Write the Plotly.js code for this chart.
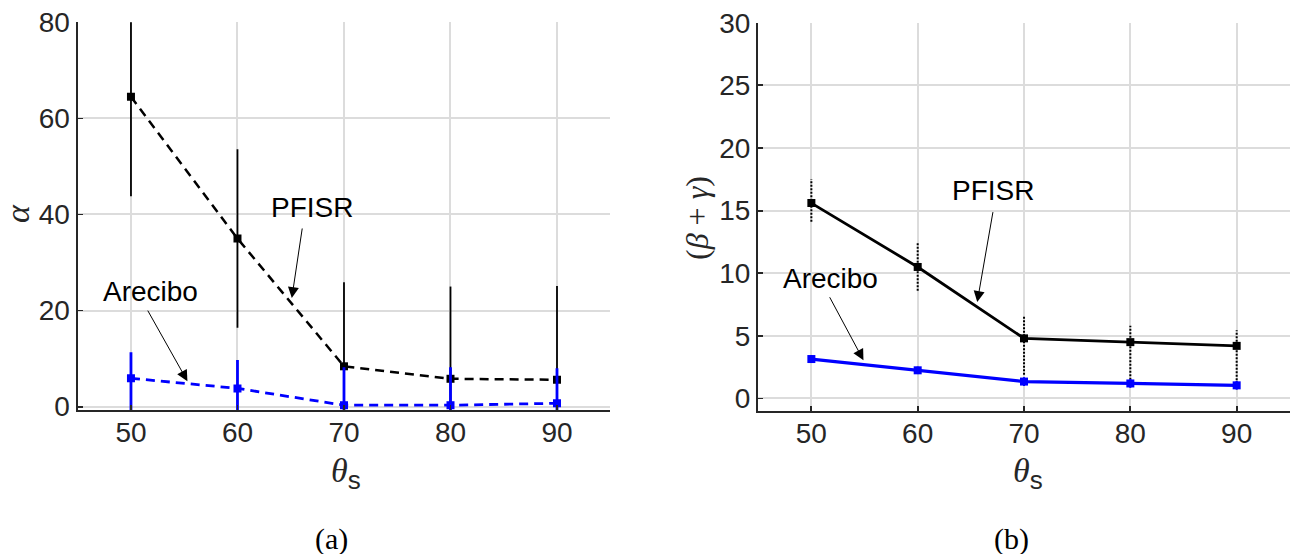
<!DOCTYPE html>
<html>
<head>
<meta charset="utf-8">
<script src="https://cdn.plot.ly/plotly-3.0.1.min.js"></script>
<style>html,body{margin:0;padding:0;background:#fff;}#chart{width:1291px;height:554px;}</style>
</head>
<body>
<div id="chart"></div>
<script>
// ---- data ----
const theta = [50, 60, 70, 80, 90];
const xTickVals = [50, 60, 70, 80, 90];
const yTickValsA = [0, 20, 40, 60, 80];
const yTickValsB = [0, 5, 10, 15, 20, 25, 30];

// panel (a): alpha
const alphaPFISR = [64.5, 35.0, 8.4, 5.8, 5.6];
const alphaPFISRErr = [20.7, 18.6, 17.5, 19.2, 19.5];
const alphaArecibo = [5.9, 3.8, 0.3, 0.3, 0.7];
const alphaAreciboErrUp = [5.4, 5.9, 7.9, 7.9, 7.3];
const alphaAreciboErrDown = [6.6, 4.5, 1.0, 1.0, 1.4];

// panel (b): beta + gamma
const bgPFISR = [15.6, 10.5, 4.8, 4.5, 4.2];
const bgPFISRErrUp = [1.9, 1.9, 1.8, 1.3, 1.25];
const bgPFISRErrDown = [1.5, 1.9, 2.9, 3.0, 3.3];
const bgArecibo = [3.15, 2.25, 1.35, 1.2, 1.05];
const bgAreciboErr = [0.3, 0.3, 0.35, 0.35, 0.35];

// ---- build dotted error segments for panel (b) PFISR ----
const segX = [], segY = [];
theta.forEach((t, i) => {
  segX.push(t, t, null);
  segY.push(bgPFISR[i] - bgPFISRErrDown[i], bgPFISR[i] + bgPFISRErrUp[i], null);
});

const BLUE = '#0000ff';
const traces = [
  // panel a
  {x: theta, y: alphaPFISR, xaxis: 'x', yaxis: 'y', mode: 'lines+markers', name: 'PFISR',
   line: {color: '#000', width: 2.5, dash: '9px,6px'},
   marker: {symbol: 'square', size: 8, color: '#000'},
   error_y: {type: 'data', array: alphaPFISRErr, color: '#000', thickness: 1.8, width: 0}},
  {x: theta, y: alphaArecibo, xaxis: 'x', yaxis: 'y', mode: 'lines+markers', name: 'Arecibo',
   line: {color: BLUE, width: 2.8, dash: '9px,6px'},
   marker: {symbol: 'square', size: 8, color: BLUE},
   error_y: {type: 'data', symmetric: false, array: alphaAreciboErrUp, arrayminus: alphaAreciboErrDown, color: BLUE, thickness: 2.8, width: 0}},
  // panel b
  {x: segX, y: segY, xaxis: 'x2', yaxis: 'y2', mode: 'lines', name: 'PFISR error',
   line: {color: '#000', width: 2, dash: '2px,1.5px'}, connectgaps: false, hoverinfo: 'skip'},
  {x: theta, y: bgPFISR, xaxis: 'x2', yaxis: 'y2', mode: 'lines+markers', name: 'PFISR',
   line: {color: '#000', width: 2.8},
   marker: {symbol: 'square', size: 8, color: '#000'}},
  {x: theta, y: bgArecibo, xaxis: 'x2', yaxis: 'y2', mode: 'lines+markers', name: 'Arecibo',
   line: {color: BLUE, width: 3.2},
   marker: {symbol: 'square', size: 8, color: BLUE},
   error_y: {type: 'data', array: bgAreciboErr, color: BLUE, thickness: 2, width: 0}}
];

const tickFont = {family: 'Liberation Sans, Arial, sans-serif', size: 28, color: '#262626'};
const axCommon = {
  showgrid: true, gridcolor: '#dcdcdc', gridwidth: 2,
  zeroline: false, showline: true, linecolor: '#262626', linewidth: 2.2,
  ticks: 'inside', ticklen: 5, tickwidth: 1.8, tickcolor: '#262626',
  tickfont: tickFont, mirror: false, fixedrange: true
};

const serif = 'Liberation Serif, DejaVu Serif, serif';
const sans = 'Liberation Sans, Arial, sans-serif';
const annFont = {family: sans, size: 28, color: '#000'};

function arrow(xref, yref, xh, yh, xt, yt) {
  return {xref: xref, yref: yref, axref: xref, ayref: yref, x: xh, y: yh, ax: xt, ay: yt,
          text: '', showarrow: true, arrowhead: 2, arrowsize: 2.2, arrowwidth: 1, arrowcolor: '#000', standoff: 0, startstandoff: 0};
}

const thetaTitle = '<i>θ</i><sub><span style="font-family:' + sans + ';font-size:26px">s</span></sub>';

const layout = {
  width: 1291, height: 554,
  margin: {l: 0, r: 0, t: 0, b: 0},
  paper_bgcolor: '#fff', plot_bgcolor: '#fff',
  showlegend: false,
  xaxis: Object.assign({}, axCommon, {domain: [0.0602, 0.4727], range: [45, 95], tickvals: xTickVals, anchor: 'y', ticklabelstandoff: -4}),
  yaxis: Object.assign({}, axCommon, {domain: [0.2599, 0.9597], range: [-0.7, 80], tickvals: yTickValsA, anchor: 'x', ticklabelstandoff: 0}),
  xaxis2: Object.assign({}, axCommon, {domain: [0.5873, 0.9991], range: [45, 95], tickvals: xTickVals, anchor: 'y2', ticklabelstandoff: -4}),
  yaxis2: Object.assign({}, axCommon, {domain: [0.2581, 0.959], range: [-1, 30], tickvals: yTickValsB, anchor: 'x2', ticklabelstandoff: 0}),
  annotations: [
    // panel a labels
    {xref: 'x', yref: 'y', x: 67.0, y: 41.4, text: 'PFISR', showarrow: false, font: annFont},
    arrow('x', 'y', 65.1, 22.6, 66.1, 37.4),
    {xref: 'x', yref: 'y', x: 51.8, y: 23.9, text: 'Arecibo', showarrow: false, font: annFont},
    arrow('x', 'y', 55.3, 5.3, 51.5, 20.3),
    // panel b labels
    {xref: 'x2', yref: 'y2', x: 67.1, y: 16.6, text: 'PFISR', showarrow: false, font: annFont},
    arrow('x2', 'y2', 65.6, 7.7, 67.1, 15.0),
    {xref: 'x2', yref: 'y2', x: 51.8, y: 9.6, text: 'Arecibo', showarrow: false, font: annFont},
    arrow('x2', 'y2', 54.9, 3.05, 51.65, 8.2),
    // axis titles
    {xref: 'paper', yref: 'paper', x: 346 / 1291, y: 1 - 474 / 554, xanchor: 'center', yanchor: 'middle',
     text: thetaTitle, showarrow: false, font: {family: serif, size: 34, color: '#262626'}},
    {xref: 'paper', yref: 'paper', x: 1028 / 1291, y: 1 - 474 / 554, xanchor: 'center', yanchor: 'middle',
     text: thetaTitle, showarrow: false, font: {family: serif, size: 34, color: '#262626'}},
    {xref: 'paper', yref: 'paper', x: 18 / 1291, y: 1 - 214 / 554, xanchor: 'center', yanchor: 'middle',
     text: '<i>α</i>', textangle: -90, showarrow: false, font: {family: serif, size: 34, color: '#262626'}},
    {xref: 'paper', yref: 'paper', x: 697 / 1291, y: 1 - 218 / 554, xanchor: 'center', yanchor: 'middle',
     text: '(<i>β</i> + <i>γ</i>)', textangle: -90, showarrow: false, font: {family: serif, size: 32, color: '#262626'}},
    // captions
    {xref: 'paper', yref: 'paper', x: 331 / 1291, y: 1 - 539 / 554, xanchor: 'center', yanchor: 'middle',
     text: '(a)', showarrow: false, font: {family: serif, size: 30, color: '#000'}},
    {xref: 'paper', yref: 'paper', x: 1011 / 1291, y: 1 - 539 / 554, xanchor: 'center', yanchor: 'middle',
     text: '(b)', showarrow: false, font: {family: serif, size: 30, color: '#000'}}
  ]
};

Plotly.newPlot('chart', traces, layout, {staticPlot: true, displayModeBar: false});
</script>
</body>
</html>
